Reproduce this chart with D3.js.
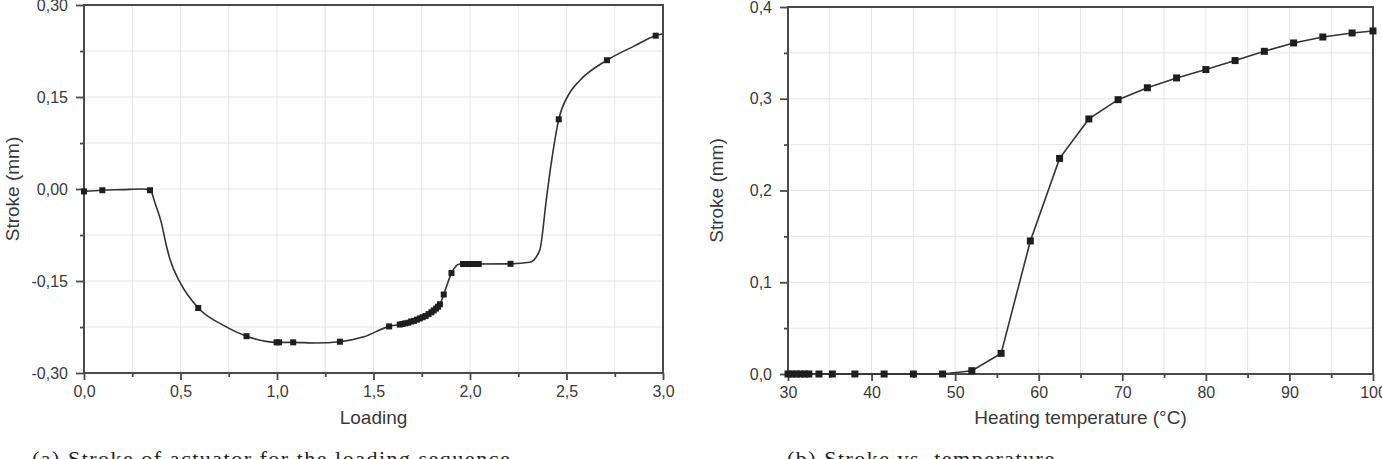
<!DOCTYPE html>
<html>
<head>
<meta charset="utf-8">
<script src="https://cdn.jsdelivr.net/npm/d3@7"></script>
<style>
  body { margin: 0; background: #fff; overflow: hidden; }
  svg text { font-family: "Liberation Sans", Arial, sans-serif; fill: #3a3a3a; }
  .caption { font-family: "Liberation Serif", "DejaVu Serif", serif !important; fill: #222 !important; }
</style>
</head>
<body>
<div id="chart"></div>
<script>
// (a) stroke vs loading: curve shape and the measured (marked) points
var loadingCurveX = [0, 0.095, 0.2, 0.3, 0.342, 0.37, 0.40, 0.425, 0.445, 0.497, 0.592, 0.72, 0.842, 1.0, 1.084, 1.2, 1.326, 1.45, 1.581, 1.636, 1.70, 1.77, 1.844, 1.864, 1.904, 1.947, 2.0, 2.21, 2.31, 2.361, 2.396, 2.42, 2.46, 2.513, 2.569, 2.71, 2.85, 2.962, 3.0];
var loadingCurveY = [-0.004, -0.002, -0.001, 0.0, -0.001, -0.025, -0.054, -0.09, -0.114, -0.152, -0.194, -0.222, -0.240, -0.250, -0.250, -0.251, -0.249, -0.241, -0.224, -0.221, -0.216, -0.207, -0.188, -0.172, -0.137, -0.1223, -0.1223, -0.122, -0.1195, -0.10, -0.016, 0.04, 0.1136, 0.155, 0.177, 0.210, 0.233, 0.250, 0.253];
var loadingMarkX = [0, 0.095, 0.342, 0.592, 0.842, 0.998, 1.011, 1.084, 1.326, 1.581,
  1.636, 1.650, 1.665, 1.680, 1.695, 1.710, 1.725, 1.740, 1.755, 1.770, 1.785, 1.800, 1.812, 1.824, 1.834, 1.844,
  1.864, 1.904, 1.964, 1.975, 1.985, 1.995, 2.005, 2.015, 2.025, 2.035, 2.045, 2.21, 2.46, 2.71, 2.962];
var loadingMarkY = [-0.004, -0.002, -0.002, -0.194, -0.240, -0.250, -0.250, -0.250, -0.249, -0.224,
  -0.221, -0.220, -0.219, -0.218, -0.216, -0.215, -0.213, -0.211, -0.209, -0.207, -0.204, -0.201, -0.198, -0.195, -0.192, -0.188,
  -0.172, -0.137, -0.1223, -0.1223, -0.1223, -0.1223, -0.1223, -0.1223, -0.1223, -0.1223, -0.1223, -0.122, 0.1136, 0.210, 0.250];

// (b) stroke vs heating temperature
var heatTemp = [30, 30.5, 31, 31.5, 32, 32.5, 33.7, 35.3, 38, 41.5, 45, 48.5, 52, 55.5, 59, 62.5, 66, 69.5, 73, 76.5, 80, 83.5, 87, 90.5, 94, 97.5, 100];
var heatStroke = [0, 0, 0, 0, 0, 0, 0, 0, 0, 0, 0, 0, 0.0036, 0.0225, 0.145, 0.235, 0.278, 0.299, 0.312, 0.3227, 0.3318, 0.3416, 0.3517, 0.3608, 0.3673, 0.3717, 0.3739];

var loadingTicks = [0, 0.5, 1.0, 1.5, 2.0, 2.5, 3.0];
var loadingMinor = [0.25, 0.75, 1.25, 1.75, 2.25, 2.75];
var strokeATicks = [-0.30, -0.15, 0.00, 0.15, 0.30];
var strokeAMinor = [-0.225, -0.075, 0.075, 0.225];
var tempTicks = [30, 40, 50, 60, 70, 80, 90, 100];
var tempMinor = [35, 45, 55, 65, 75, 85, 95];
var strokeBTicks = [0.0, 0.1, 0.2, 0.3, 0.4];
var strokeBMinor = [0.05, 0.15, 0.25, 0.35];

var captions = ["(a) Stroke of actuator for the loading sequence", "(b) Stroke vs. temperature"];

var svg = d3.select('#chart').append('svg').attr('width', 1382).attr('height', 459);

// comma decimals and a plain hyphen for negatives, as in the figure
function comma(digits) {
  return function(d) { return d3.format('.' + digits + 'f')(d).replace('.', ',').replace('\u2212', '-'); };
}

function panel(o) {
  var x = d3.scaleLinear().domain(o.xDomain).range([o.left, o.right]);
  var y = d3.scaleLinear().domain(o.yDomain).range([o.bottom, o.top]);
  var g = svg.append('g');

  // light grid at major + minor steps
  var gx = o.xTicks.concat(o.xMinor), gy = o.yTicks.concat(o.yMinor);
  g.selectAll('line.gx').data(gx).enter().append('line')
    .attr('x1', d => x(d)).attr('x2', d => x(d)).attr('y1', o.top).attr('y2', o.bottom)
    .attr('stroke', '#e6e6e6').attr('stroke-width', 1);
  g.selectAll('line.gy').data(gy).enter().append('line')
    .attr('y1', d => y(d)).attr('y2', d => y(d)).attr('x1', o.left).attr('x2', o.right)
    .attr('stroke', '#e6e6e6').attr('stroke-width', 1);

  // axes
  var ax = g.append('g').attr('transform', 'translate(0,' + o.bottom + ')')
    .call(d3.axisBottom(x).tickValues(o.xTicks).tickSize(7).tickPadding(6).tickFormat(o.xFmt));
  var axm = g.append('g').attr('transform', 'translate(0,' + o.bottom + ')')
    .call(d3.axisBottom(x).tickValues(o.xMinor).tickSize(4).tickFormat(''));
  var ay = g.append('g').attr('transform', 'translate(' + o.left + ',0)')
    .call(d3.axisLeft(y).tickValues(o.yTicks).tickSize(8).tickPadding(8).tickFormat(o.yFmt));
  var aym = g.append('g').attr('transform', 'translate(' + o.left + ',0)')
    .call(d3.axisLeft(y).tickValues(o.yMinor).tickSize(4).tickFormat(''));
  [ax, axm, ay, aym].forEach(function(a) {
    a.select('.domain').remove();
    a.selectAll('line').attr('stroke', '#4a4a4a').attr('stroke-width', 1.8);
    a.selectAll('text').attr('font-size', 16).style('fill', '#3a3a3a');
  });

  g.append('rect').attr('x', o.left).attr('y', o.top)
    .attr('width', o.right - o.left).attr('height', o.bottom - o.top)
    .attr('fill', 'none').attr('stroke', '#4a4a4a').attr('stroke-width', 2);

  // axis titles
  g.append('text').attr('x', (o.left + o.right) / 2).attr('y', 424)
    .attr('text-anchor', 'middle').attr('font-size', 19).text(o.xTitle);
  g.append('text').attr('transform', 'translate(' + o.yTitleX + ',' + ((o.top + o.bottom) / 2) + ') rotate(-90)')
    .attr('text-anchor', 'middle').attr('dy', '0.35em').attr('font-size', 19).text('Stroke (mm)');

  // data
  var line = d3.line().x(d => x(d[0])).y(d => y(d[1])).curve(o.curve);
  g.append('path').datum(d3.zip(o.lineX, o.lineY)).attr('d', line)
    .attr('fill', 'none').attr('stroke', '#333').attr('stroke-width', 1.6);
  g.selectAll('rect.mark').data(d3.zip(o.markX, o.markY)).enter().append('rect')
    .attr('class', 'mark')
    .attr('x', d => x(d[0]) - o.ms / 2).attr('y', d => y(d[1]) - o.ms / 2)
    .attr('width', o.ms).attr('height', o.ms).attr('fill', '#1e1e1e');

  // figure caption, cut by the lower edge as in the source image
  svg.append('text').attr('class', 'caption').attr('x', o.capX).attr('y', 466)
    .attr('font-size', 22).attr('letter-spacing', 1.5).text(o.caption);
}

panel({
  left: 84, right: 663, top: 5, bottom: 373,
  xDomain: [0, 3], yDomain: [-0.3, 0.3],
  xTicks: loadingTicks, xMinor: loadingMinor, yTicks: strokeATicks, yMinor: strokeAMinor,
  xFmt: comma(1), yFmt: comma(2),
  xTitle: 'Loading', yTitleX: 12,
  lineX: loadingCurveX, lineY: loadingCurveY, markX: loadingMarkX, markY: loadingMarkY,
  curve: d3.curveMonotoneX, ms: 6,
  caption: captions[0], capX: 32
});

panel({
  left: 788, right: 1373, top: 7, bottom: 374,
  xDomain: [30, 100], yDomain: [0, 0.4],
  xTicks: tempTicks, xMinor: tempMinor, yTicks: strokeBTicks, yMinor: strokeBMinor,
  xFmt: d3.format('d'), yFmt: comma(1),
  xTitle: 'Heating temperature (°C)', yTitleX: 716,
  lineX: heatTemp, lineY: heatStroke, markX: heatTemp, markY: heatStroke,
  curve: d3.curveLinear, ms: 7,
  caption: captions[1], capX: 787
});
</script>
</body>
</html>
